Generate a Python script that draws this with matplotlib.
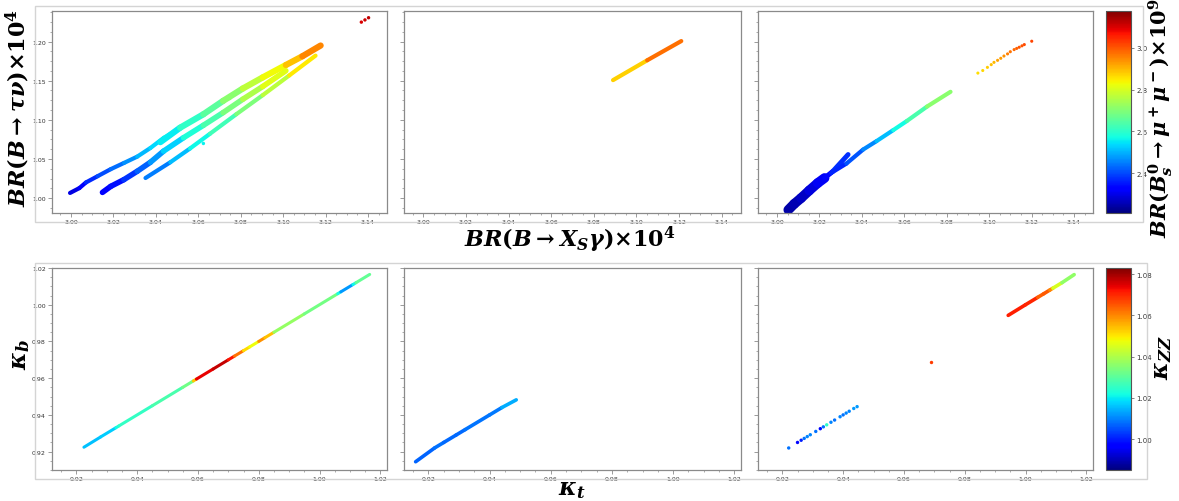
import numpy as np
import matplotlib
matplotlib.use("Agg")
import matplotlib.pyplot as plt
from matplotlib.collections import LineCollection
from matplotlib.colors import Normalize
from matplotlib.cm import ScalarMappable
from matplotlib.ticker import AutoMinorLocator, MultipleLocator, FormatStrFormatter
from matplotlib.patches import Rectangle

plt.rcParams['mathtext.fontset'] = 'custom'
plt.rcParams['mathtext.rm'] = 'DejaVu Serif:bold'
plt.rcParams['mathtext.it'] = 'DejaVu Serif:italic:bold'
plt.rcParams['mathtext.bf'] = 'DejaVu Serif:bold'

# ---- top row: BR(B->Xs gamma) vs BR(B->tau nu), colour = BR(Bs->mu mu) ----
# panel 1, strand A (upper left)
p1a_x = [2.9995, 3.0039, 3.0070, 3.0125, 3.0187, 3.0250, 3.0312, 3.0374, 3.0437, 3.0493]
p1a_y = [1.0066, 1.0128, 1.0200, 1.0280, 1.0370, 1.0450, 1.0530, 1.0640, 1.0770, 1.0857]
p1a_c = [2.28, 2.31, 2.35, 2.39, 2.42, 2.45, 2.49, 2.52, 2.55, 2.58]
# panel 1, strand B (lower edge of middle band)
p1b_x = [3.0148, 3.0187, 3.0249, 3.0312, 3.0374, 3.0436, 3.0530, 3.0624, 3.0717, 3.0810, 3.0904, 3.1013]
p1b_y = [1.0073, 1.0150, 1.0236, 1.0343, 1.0458, 1.0600, 1.0771, 1.0930, 1.1092, 1.1263, 1.1426, 1.1627]
p1b_c = [2.31, 2.33, 2.36, 2.40, 2.45, 2.50, 2.56, 2.61, 2.66, 2.72, 2.78, 2.84]
# panel 1, strand B' (upper edge of middle band)
p1d_x = [3.0421, 3.0514, 3.0624, 3.0717, 3.0810, 3.0904, 3.1013, 3.1091, 3.1177]
p1d_y = [1.0715, 1.0899, 1.1071, 1.1242, 1.1400, 1.1542, 1.1700, 1.1812, 1.1949]
p1d_c = [2.53, 2.58, 2.63, 2.68, 2.74, 2.80, 2.86, 2.92, 2.98]
# panel 1, strand C (lowest)
p1c_x = [3.0351, 3.0468, 3.0561, 3.0655, 3.0779, 3.0904, 3.1029, 3.1153]
p1c_y = [1.0257, 1.0458, 1.0634, 1.0822, 1.1071, 1.1315, 1.1567, 1.1820]
p1c_c = [2.42, 2.48, 2.54, 2.59, 2.66, 2.73, 2.80, 2.90]
# panel 1, isolated points
p1s_x = [3.0624, 3.0725, 3.0748, 3.1369, 3.1386, 3.1403]
p1s_y = [1.0698, 1.1242, 1.1272, 1.2248, 1.2276, 1.2304]
p1s_c = [2.56, 2.72, 2.73, 3.10, 3.11, 3.12]

# panel 2
p2_x = [3.0890, 3.1050, 3.1210]
p2_y = [1.1507, 1.1760, 1.2006]
p2_c = [2.82, 2.93, 3.02]

# panel 3, dense blob
p3a_x = [3.0053, 3.0081, 3.0113, 3.0152, 3.0192, 3.0224]
p3a_y = [0.9850, 0.9927, 1.0000, 1.0098, 1.0193, 1.0257]
p3a_c = [2.24, 2.25, 2.26, 2.28, 2.30, 2.32]
# panel 3, upper sub-strand
p3b_x = [3.0224, 3.0263, 3.0335]
p3b_y = [1.0257, 1.0343, 1.0557]
p3b_c = [2.32, 2.35, 2.40]
# panel 3, main strand
p3c_x = [3.0224, 3.0255, 3.0327, 3.0406, 3.0469, 3.0548, 3.0612, 3.0707, 3.0818]
p3c_y = [1.0257, 1.0321, 1.0441, 1.0621, 1.0728, 1.0869, 1.0985, 1.1169, 1.1358]
p3c_c = [2.32, 2.35, 2.38, 2.44, 2.48, 2.54, 2.60, 2.67, 2.75]
# panel 3, dotted upper part
p3d_x = [3.0947, 3.0970, 3.0992, 3.1010, 3.1023, 3.1040, 3.1055, 3.1070, 3.1087, 3.1100, 3.1118, 3.1130, 3.1142, 3.1155, 3.1166, 3.1201]
p3d_y = [1.1597, 1.1630, 1.1670, 1.1705, 1.1734, 1.1760, 1.1786, 1.1815, 1.1842, 1.1870, 1.1897, 1.1912, 1.1927, 1.1945, 1.1961, 1.2004]
p3d_c = [2.86, 2.87, 2.88, 2.89, 2.90, 2.92, 2.93, 2.94, 2.96, 2.97, 2.98, 2.99, 3.00, 3.00, 3.01, 3.02]

# ---- bottom row: kappa_t vs kappa_b, colour = kappa_ZZ ----
q1_x = [0.9225, 0.9280, 0.9330, 0.9340, 0.9450, 0.9550, 0.9585, 0.9595, 0.9650, 0.9700, 0.9720,
        0.9750, 0.9770, 0.9800, 0.9820, 0.9850, 0.9950, 1.0060, 1.0070, 1.0110, 1.0120, 1.0165]
q1_y = [0.9224, 0.9280, 0.9330, 0.9340, 0.9450, 0.9550, 0.9585, 0.9595, 0.9650, 0.9700, 0.9720,
        0.9750, 0.9770, 0.9800, 0.9820, 0.9850, 0.9950, 1.0060, 1.0070, 1.0110, 1.0120, 1.0165]
q1_c = [1.016, 1.016, 1.018, 1.025, 1.026, 1.030, 1.035, 1.072, 1.076, 1.078, 1.066,
        1.058, 1.045, 1.050, 1.068, 1.040, 1.034, 1.032, 1.012, 1.012, 1.030, 1.032]

q2_x = [0.9158, 0.9220, 0.9250, 0.9290, 0.9320, 0.9400, 0.9440, 0.9487]
q2_y = [0.9145, 0.9220, 0.9250, 0.9290, 0.9320, 0.9400, 0.9440, 0.9482]
q2_c = [1.010, 1.004, 1.012, 1.003, 1.012, 1.005, 1.013, 1.015]

q3a_x = [0.9221, 0.9250, 0.9262, 0.9272, 0.9282, 0.9292, 0.9310, 0.9325, 0.9335, 0.9346,
         0.9360, 0.9372, 0.9390, 0.9400, 0.9410, 0.9420, 0.9435, 0.9446]
q3a_y = [0.9220, 0.9250, 0.9262, 0.9272, 0.9282, 0.9292, 0.9310, 0.9325, 0.9335, 0.9346,
         0.9360, 0.9372, 0.9390, 0.9400, 0.9410, 0.9420, 0.9435, 0.9445]
q3a_c = [1.008, 0.998, 1.000, 1.008, 1.010, 1.010, 1.008, 0.998, 1.008, 1.025,
         1.010, 1.008, 1.010, 1.008, 1.010, 1.010, 1.012, 1.012]
q3b_x = [0.9688]
q3b_y = [0.9687]
q3b_c = [1.068]
q3c_x = [0.9943, 1.0000, 1.0040, 1.0060, 1.0080, 1.0090, 1.0120, 1.0160]
q3c_y = [0.9942, 1.0000, 1.0040, 1.0060, 1.0080, 1.0090, 1.0120, 1.0164]
q3c_c = [1.070, 1.072, 1.068, 1.060, 1.070, 1.050, 1.040, 1.033]

top_norm = Normalize(2.21, 3.176)
bot_norm = Normalize(0.985, 1.083)
cmap = plt.get_cmap('jet')

W, H = 1179, 502
fig = plt.figure(figsize=(W / 100, H / 100), dpi=100)


def box(l, t, r, b):
    return [l / W, 1 - b / H, (r - l) / W, (b - t) / H]


def strand(ax, x, y, c, norm, lw):
    pts = np.column_stack([x, y])
    segs = np.stack([pts[:-1], pts[1:]], axis=1)
    cc = (np.asarray(c[:-1]) + np.asarray(c[1:])) / 2
    lc = LineCollection(segs, cmap=cmap, norm=norm, linewidths=lw, capstyle='round')
    lc.set_array(cc)
    ax.add_collection(lc)


def dots(ax, x, y, c, norm, s=5):
    ax.scatter(x, y, c=c, cmap=cmap, norm=norm, s=s, linewidths=0)


def style(ax, xl, yl, xmaj, ymaj, ylabels):
    ax.set_xlim(*xl)
    ax.set_ylim(*yl)
    ax.xaxis.set_major_locator(MultipleLocator(xmaj))
    ax.yaxis.set_major_locator(MultipleLocator(ymaj))
    ax.xaxis.set_minor_locator(AutoMinorLocator(4))
    ax.yaxis.set_minor_locator(AutoMinorLocator(4))
    ax.xaxis.set_major_formatter(FormatStrFormatter('%.2f'))
    ax.yaxis.set_major_formatter(FormatStrFormatter('%.2f'))
    for s in ax.spines.values():
        s.set_color('#8a8a8a')
        s.set_linewidth(0.9)
    ax.tick_params(which='major', length=3, width=0.6, color='#8a8a8a',
                   labelsize=4.5, labelcolor='#333333', pad=1.5)
    ax.tick_params(which='minor', length=1.5, width=0.5, color='#8a8a8a')
    if not ylabels:
        ax.tick_params(labelleft=False)


cols = [(52, 387), (404, 741), (758, 1093)]
top_axes = [fig.add_axes(box(l, 12, r, 214)) for l, r in cols]
bot_axes = [fig.add_axes(box(l, 269, r, 471)) for l, r in cols]

for i, ax in enumerate(top_axes):
    style(ax, (2.991, 3.149), (0.981, 1.239), 0.02, 0.05, i == 0)
for i, ax in enumerate(bot_axes):
    style(ax, (0.912, 1.0222), (0.910, 1.020), 0.02, 0.02, i == 0)

a1, a2, a3 = top_axes
strand(a1, p1a_x, p1a_y, p1a_c, top_norm, 3.0)
strand(a1, p1b_x, p1b_y, p1b_c, top_norm, 4.0)
strand(a1, p1d_x, p1d_y, p1d_c, top_norm, 4.5)
strand(a1, p1c_x, p1c_y, p1c_c, top_norm, 3.0)
dots(a1, p1s_x, p1s_y, p1s_c, top_norm, s=6)
strand(a2, p2_x, p2_y, p2_c, top_norm, 3.0)
strand(a3, p3a_x, p3a_y, p3a_c, top_norm, 7.0)
strand(a3, p3b_x, p3b_y, p3b_c, top_norm, 3.5)
strand(a3, p3c_x, p3c_y, p3c_c, top_norm, 3.0)
dots(a3, p3d_x, p3d_y, p3d_c, top_norm, s=5)

b1, b2, b3 = bot_axes
strand(b1, q1_x, q1_y, q1_c, bot_norm, 2.2)
strand(b2, q2_x, q2_y, q2_c, bot_norm, 2.6)
dots(b3, q3a_x, q3a_y, q3a_c, bot_norm, s=6)
dots(b3, q3b_x, q3b_y, q3b_c, bot_norm, s=6)
strand(b3, q3c_x, q3c_y, q3c_c, bot_norm, 2.6)

# colour bars
for (t, b), norm, ticks, fmt in [((12, 214), top_norm, [2.4, 2.6, 2.8, 3.0], '%.1f'),
                                 ((269, 471), bot_norm, [1.00, 1.02, 1.04, 1.06, 1.08], '%.2f')]:
    cax = fig.add_axes(box(1106, t, 1131, b))
    cb = fig.colorbar(ScalarMappable(norm=norm, cmap=cmap), cax=cax, ticks=ticks)
    cb.outline.set_edgecolor('#555555')
    cb.outline.set_linewidth(0.8)
    cax.tick_params(length=2, width=0.5, color='#555555', labelsize=5, labelcolor='#333333', pad=2)
    cax.yaxis.set_major_formatter(FormatStrFormatter(fmt))

# light frames around the two rows
for l, t, r, b in [(35, 7, 1143, 223), (35, 264, 1147, 480)]:
    fig.add_artist(Rectangle((l / W, 1 - b / H), (r - l) / W, (b - t) / H,
                             transform=fig.transFigure, fill=False, ec='#d4d4d4', lw=1))

fs = 16
fig.text(18 / W, 1 - 108 / H, r'$BR(B\rightarrow\tau\nu){\times}10^4$', rotation=90,
         ha='center', va='center', fontsize=fs)
fig.text(570 / W, 1 - 240 / H, r'$BR(B\rightarrow X_S\gamma){\times}10^4$',
         ha='center', va='center', fontsize=fs)
fig.text(1161 / W, 1 - 118 / H, r'$BR(B_s^0\rightarrow\mu^+\mu^-){\times}10^9$', rotation=90,
         ha='center', va='center', fontsize=15)
fig.text(20 / W, 1 - 355 / H, r'$\kappa_b$', rotation=90, ha='center', va='center', fontsize=fs + 1)
fig.text(572 / W, 1 - 489 / H, r'$\kappa_t$', ha='center', va='center', fontsize=fs + 1)
fig.text(1162 / W, 1 - 358 / H, r'$\kappa_{ZZ}$', rotation=90, ha='center', va='center', fontsize=fs + 1)

fig.savefig('out.png', dpi=100)
